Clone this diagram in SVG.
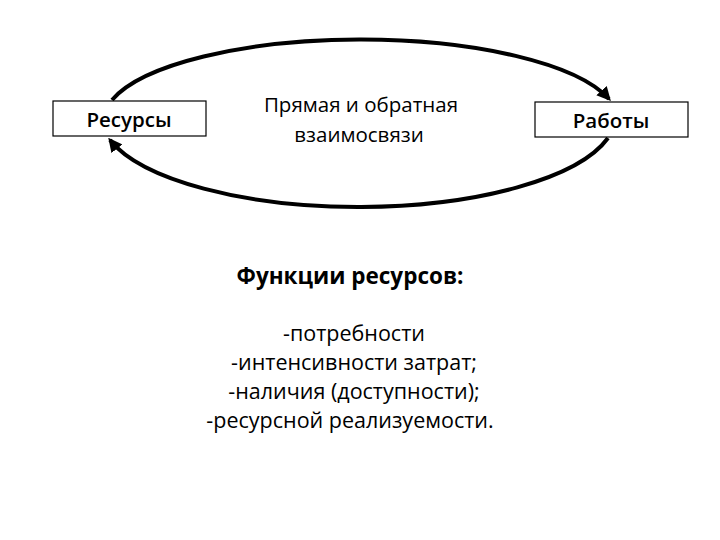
<svg xmlns="http://www.w3.org/2000/svg" width="720" height="540" viewBox="0 0 720 540">
<defs>
<marker id="ah" viewBox="0 0 10 10" refX="8" refY="5" markerWidth="3.5" markerHeight="3.5" orient="auto" markerUnits="strokeWidth">
<path d="M0,0 L10,5 L0,10 z" fill="#000"/>
</marker>
<style>
text{font-family:"Open Sans","Liberation Sans",sans-serif;fill:#000;text-anchor:middle}
.box{fill:#fff;stroke:#000;stroke-width:1.2}
.lbl{font-size:20.5px;font-weight:600}
.mid{font-size:20.5px}
.hd{font-size:22.5px;font-weight:700}
.ls{font-size:21.5px}
.arc{fill:none;stroke:#000;stroke-width:4}
</style>
</defs>
<rect width="720" height="540" fill="#fff"/>
<g id="connectors">
<path class="arc" d="M112,100 A258 82 0 0 1 609,99" marker-end="url(#ah)"/>
<path class="arc" d="M608,138 A258 92 0 0 1 110,140" marker-end="url(#ah)"/>
</g>
<g id="resources">
<rect class="box" x="53" y="101" width="153" height="35"/>
<text class="lbl" x="129" y="127">Ресурсы</text>
</g>
<g id="works">
<rect class="box" x="535" y="102" width="153" height="35"/>
<text class="lbl" x="611" y="128">Работы</text>
</g>
<g id="relation">
<text class="mid" x="361" y="112">Прямая и обратная</text>
<text class="mid" x="359" y="142">взаимосвязи</text>
</g>
<g id="functions">
<text class="hd" x="350" y="284">Функции ресурсов:</text>
<text class="ls" x="354" y="341">-потребности</text>
<text class="ls" x="354" y="370">-интенсивности затрат;</text>
<text class="ls" x="354" y="399">-наличия (доступности);</text>
<text class="ls" x="350" y="428">-ресурсной реализуемости.</text>
</g>
</svg>
